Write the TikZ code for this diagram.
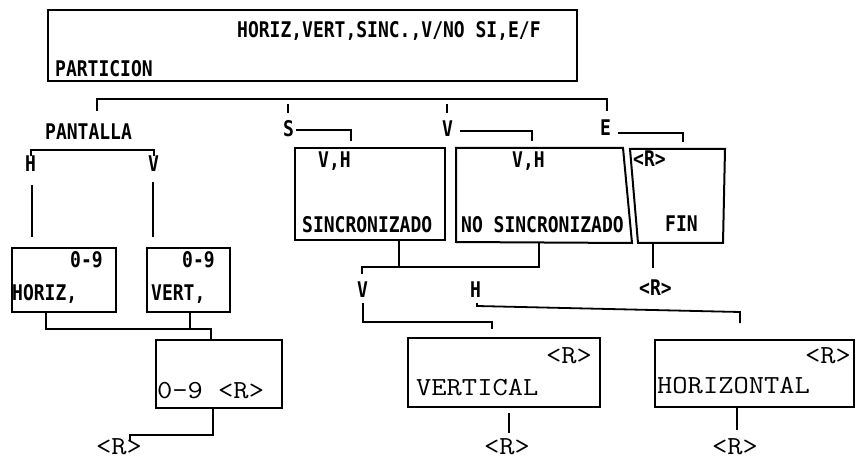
\documentclass[tikz,border=0pt]{standalone}
\usepackage{fontspec}
\newfontfamily\dmfam{DejaVu Sans Mono}
\newcommand\dmt[1]{\scalebox{0.9}[1.08]{#1}}
\newcommand\crt[1]{\scalebox{1.14}[1]{#1}}
\tikzset{
  box/.style={draw, line width=2pt, inner sep=0pt, outer sep=0pt, anchor=north west},
  boxline/.style={line width=2pt, line join=miter},
  conn/.style={line width=1.8pt},
  dm/.style={inner sep=0pt, anchor=base west, font=\dmfam\bfseries\fontsize{20}{20}\selectfont},
  cr/.style={inner sep=0pt, anchor=base west, font=\ttfamily\fontsize{26}{26}\selectfont},
}
\begin{document}
\begin{tikzpicture}[x=1pt, y=-1pt]
\useasboundingbox (0,0) rectangle (856,462);
% boxes
\node[box, minimum width=529pt, minimum height=71pt] (part) at (48,10) {};
\node[box, minimum width=104pt, minimum height=64pt] (hbox) at (12,248) {};
\node[box, minimum width=83pt, minimum height=64pt] (vbox) at (147,248) {};
\node[box, minimum width=126pt, minimum height=68pt] (nbox) at (156,340) {};
\node[box, minimum width=150pt, minimum height=92pt] (sinc) at (295,148) {};
\node[box, minimum width=192pt, minimum height=69pt] (vert) at (408,338) {};
\node[box, minimum width=199pt, minimum height=67pt] (horz) at (655,340) {};
\coordinate (ns1) at (456,148); \coordinate (ns2) at (623,148);
\coordinate (ns3) at (632,243); \coordinate (ns4) at (456,242);
\draw[boxline] (ns1) -- (ns2) -- (ns3) -- (ns4) -- cycle;
\coordinate (f1) at (630,149); \coordinate (f2) at (725,149);
\coordinate (f3) at (723,243); \coordinate (f4) at (638,243);
\draw[boxline] (f1) -- (f2) -- (f3) -- (f4) -- cycle;
% texts (dot-matrix style)
\node[dm] (tparam) at (237,38) {\dmt{HORIZ,VERT,SINC.,V/NO SI,E/F}};
\node[dm] (tpart) at (55,77) {\dmt{PARTICION}};
\node[dm] (tpant) at (45,140) {\dmt{PANTALLA}};
\node[dm] (tS) at (283,137) {\dmt{S}};
\node[dm] (tV) at (442,137) {\dmt{V}};
\node[dm] (tE) at (600,136) {\dmt{E}};
\node[dm] (tH1) at (25,172) {\dmt{H}};
\node[dm] (tV1) at (148,172) {\dmt{V}};
\node[dm] (h09) at (70,268) {\dmt{0-9}};
\node[dm] (htx) at (12,300) {\dmt{HORIZ,}};
\node[dm] (v09) at (182,268) {\dmt{0-9}};
\node[dm] (vtx) at (151,300) {\dmt{VERT,}};
\node[dm] (svh) at (318,168) {\dmt{V,H}};
\node[dm] (stx) at (302,233) {\dmt{SINCRONIZADO}};
\node[dm] (nvh) at (512,168) {\dmt{V,H}};
\node[dm] (ntx) at (461,233) {\dmt{NO SINCRONIZADO}};
\node[dm] (fr) at (633,167) {\dmt{<R>}};
\node[dm] (ftx) at (665,232) {\dmt{FIN}};
\node[dm] (fr2) at (639,295) {\dmt{<R>}};
\node[dm] (tV2) at (357,297) {\dmt{V}};
\node[dm] (tH2) at (470,297) {\dmt{H}};
% texts (typewriter style)
\node[cr] (ntxt) at (157,398) {\crt{0-9 <R>}};
\node[cr] (r1) at (96,454) {\crt{<R>}};
\node[cr] (vr) at (546,363) {\crt{<R>}};
\node[cr] (vtxt) at (416,395) {\crt{VERTICAL}};
\node[cr] (vr2) at (484,454) {\crt{<R>}};
\node[cr] (hr) at (805,363) {\crt{<R>}};
\node[cr] (htxt) at (657,393) {\crt{HORIZONTAL}};
\node[cr] (hr2) at (712,454) {\crt{<R>}};
% connector points
\coordinate (busL) at (97,99); \coordinate (busR) at (607,99);
\coordinate (pantTop) at (97,111); \coordinate (eTop) at (607,111);
\coordinate (sT1) at (288,104); \coordinate (sT2) at (288,113);
\coordinate (vT1) at (447,104); \coordinate (vT2) at (447,113);
\coordinate (sL) at (296,130); \coordinate (sR) at (351,141);
\coordinate (vL) at (460,131); \coordinate (vR) at (532,141);
\coordinate (eL) at (618,133); \coordinate (eR) at (683,142);
\coordinate (pb) at (31,150);
\coordinate (hl1) at (32,185); \coordinate (hl2) at (32,237);
\coordinate (vl1) at (153,182); \coordinate (vl2) at (153,237);
\coordinate (hvj) at (46,329); \coordinate (nj) at (211,329);
\coordinate (vj) at (190,329);
\coordinate (nb) at (213,435);
\coordinate (nr1) at (130,435); \coordinate (nr2) at (130,441);
\coordinate (sb) at (399,267); \coordinate (nsb) at (539,267);
\coordinate (sj) at (362,267); \coordinate (sjv) at (362,274);
\coordinate (vv1) at (363,303); \coordinate (vv2) at (363,322);
\coordinate (vv3) at (492,329);
\coordinate (hh1) at (477,303); \coordinate (hh2) at (477,306);
\coordinate (hh3) at (740,312); \coordinate (hh4) at (740,323);
\coordinate (fr1) at (653,268);
\coordinate (vtb) at (509,413); \coordinate (vte) at (509,433);
\coordinate (htb) at (737,430);
% connectors
\draw[conn] (pantTop) -- (busL) -- (busR) -- (eTop);
\draw[conn] (sT1) -- (sT2);
\draw[conn] (vT1) -- (vT2);
\draw[conn] (sL) -| (sR);
\draw[conn] (vL) -| (vR);
\draw[conn] (eL) -| (eR);
\draw[conn] (tH1.north) -- (tH1.north |- pb) -| (tV1.north);
\draw[conn] (hl1) -- (hl2);
\draw[conn] (vl1) -- (vl2);
\draw[conn] (hbox.south -| hvj) -- (hvj) -- (nj) -- (nbox.north -| nj);
\draw[conn] (vbox.south -| vj) -- (vj);
\draw[conn] (nbox.south -| nb) -- (nb) -- (nr1) -- (nr2);
\draw[conn] (sinc.south -| sb) -- (sb);
\draw[conn] (ns4 -| nsb) -- (nsb) -- (sj) -- (sjv);
\draw[conn] (vv1) -- (vv2) -| (vv3);
\draw[conn] (hh1) -- (hh2) -- (hh3) -- (hh4);
\draw[conn] (fr1) -- (fr1 |- f4);
\draw[conn] (vtb) -- (vte);
\draw[conn] (horz.south -| htb) -- (htb);
\end{tikzpicture}
\end{document}
